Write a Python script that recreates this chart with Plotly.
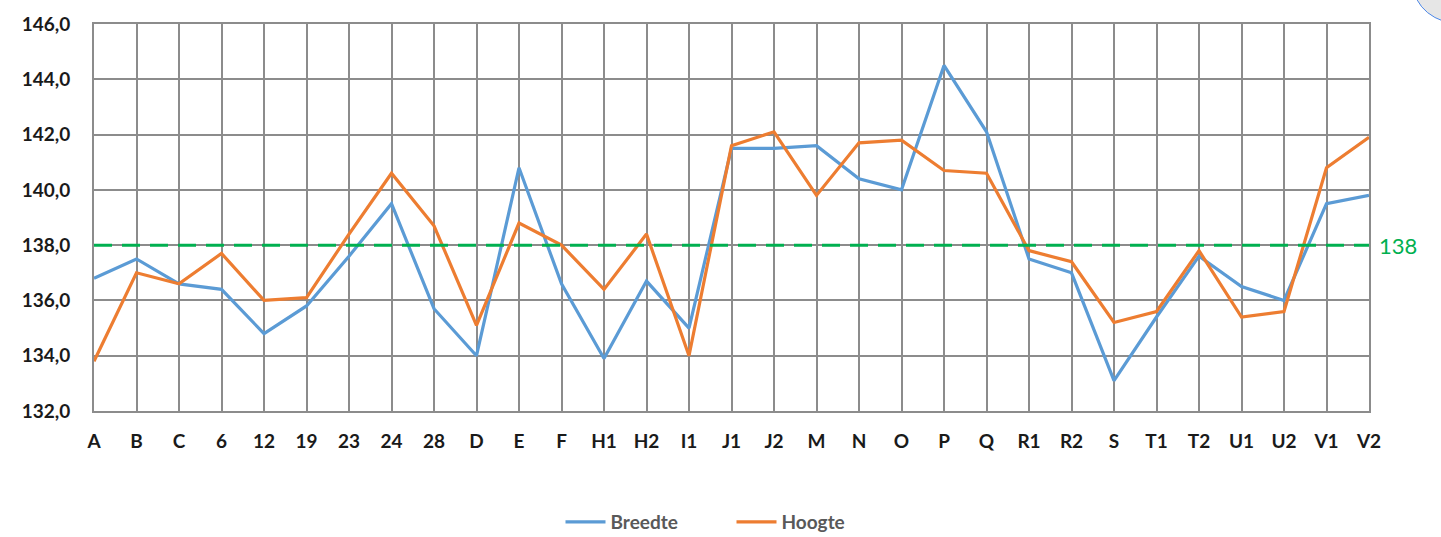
import plotly.graph_objects as go

# Category labels along the x axis
categories = ["A", "B", "C", "6", "12", "19", "23", "24", "28", "D", "E", "F",
              "H1", "H2", "I1", "J1", "J2", "M", "N", "O", "P", "Q", "R1", "R2",
              "S", "T1", "T2", "U1", "U2", "V1", "V2"]

# Measured values per category
breedte = [136.8, 137.5, 136.6, 136.4, 134.8, 135.8, 137.6, 139.5, 135.7, 134.0,
           140.8, 136.6, 133.9, 136.7, 135.0, 141.5, 141.5, 141.6, 140.4, 140.0,
           144.5, 142.1, 137.5, 137.0, 133.1, 135.4, 137.6, 136.5, 136.0, 139.5,
           139.8]
hoogte = [133.8, 137.0, 136.6, 137.7, 136.0, 136.1, 138.4, 140.6, 138.7, 135.1,
          138.8, 138.0, 136.4, 138.4, 134.0, 141.6, 142.1, 139.8, 141.7, 141.8,
          140.7, 140.6, 137.8, 137.4, 135.2, 135.6, 137.8, 135.4, 135.6, 140.8,
          141.9]

# Reference level
reference = 138
y_ticks = [132, 134, 136, 138, 140, 142, 144, 146]

FONT = "Lato"
GRID = "#8c8c8c"

fig = go.Figure()
fig.add_trace(go.Scatter(x=categories, y=breedte, mode="lines", name="Breedte",
                         line=dict(color="#5b9bd5", width=3.2)))
fig.add_trace(go.Scatter(x=categories, y=hoogte, mode="lines", name="Hoogte",
                         line=dict(color="#ed7d31", width=3.2)))

# Dashed reference line with its label at the right
fig.add_shape(type="line", xref="paper", x0=0, x1=1, yref="y", y0=reference, y1=reference,
              line=dict(color="#00b050", width=3, dash="18px,10px"))
fig.add_annotation(xref="paper", x=1, yref="y", y=reference, text=str(reference),
                   showarrow=False, xanchor="left", xshift=8,
                   font=dict(family=FONT, size=22, color="#00b050"))

# Round badge partly visible in the top right corner
fig.add_shape(type="circle", xref="paper", yref="paper",
              x0=1.035, x1=1.11, y0=1.0, y1=1.2,
              fillcolor="#e6e6e6", line=dict(color="#4a86e8", width=1), layer="above")

fig.update_layout(
    width=1441, height=537,
    margin=dict(l=94, r=72, t=19, b=126),
    paper_bgcolor="white", plot_bgcolor="white",
    separators=",.",
    showlegend=True,
    legend=dict(orientation="h", xanchor="center", x=0.5, yref="container",
                y=0.028, yanchor="middle",
                font=dict(family=FONT, size=19, color="#595959", weight="bold"),
                itemwidth=40, entrywidth=116, entrywidthmode="pixels"),
    font=dict(family=FONT),
)
fig.update_xaxes(
    type="category", range=[0, len(categories) - 1],
    showgrid=True, gridcolor=GRID, gridwidth=2,
    showline=True, linecolor=GRID, linewidth=2, mirror=True,
    tickfont=dict(family=FONT, size=19, color="#1a1a1a", weight="bold"),
    ticklabelstandoff=12, ticks="",
)
fig.update_yaxes(
    range=[132, 146], tickvals=y_ticks, tickformat=".1f",
    showgrid=True, gridcolor=GRID, gridwidth=2, zeroline=False,
    showline=True, linecolor=GRID, linewidth=2, mirror=True,
    tickfont=dict(family=FONT, size=19, color="#1a1a1a", weight="bold"),
    ticklabelstandoff=18, ticks="",
)

fig.write_html("out.html")
